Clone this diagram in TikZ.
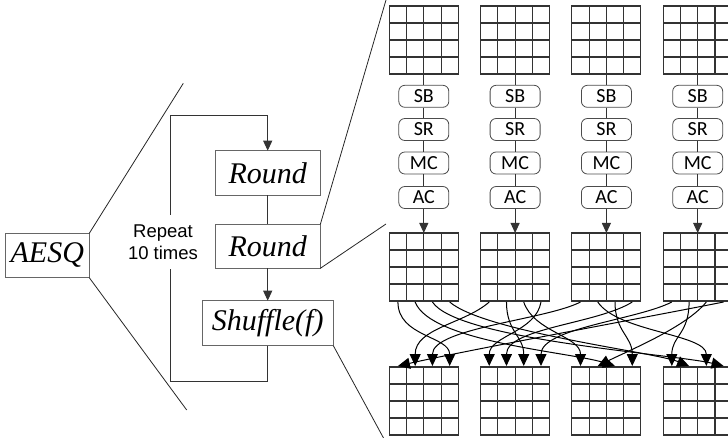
\documentclass[tikz,border=0pt]{standalone}
\usepackage{fontspec}
\setmainfont{Liberation Serif}
\setsansfont{Liberation Sans}
\newfontfamily\opfont{Carlito}
\usetikzlibrary{arrows.meta}

\tikzset{
  blockbox/.style={draw=black!60, line width=1pt, inner sep=0pt, outer sep=0pt,
    font=\fontsize{30}{32}\selectfont\itshape},
  opbox/.style={draw=black!70, line width=0.8pt, rounded corners=6pt, inner sep=0pt,
    minimum width=50pt, minimum height=22pt, font=\opfont\fontsize{20}{22}\selectfont},
  gridbox/.style={draw=black!80, line width=1.1pt, inner sep=0pt, outer sep=0pt,
    minimum width=69pt, minimum height=68pt},
  gridline/.style={draw=black!80, line width=1.1pt},
  wire/.style={draw=black!80, line width=1pt},
  zoomline/.style={draw=black!85, line width=0.8pt},
  arr/.style={wire, -{Triangle[length=10pt,width=9pt]}},
  shuf/.style={draw=black, line width=1pt, -{Triangle[length=12pt,width=11pt]}},
}

\begin{document}
\begin{tikzpicture}[x=1pt,y=-1pt]
\useasboundingbox (0,0) rectangle (728,438);

% ---- left: AESQ and its round structure ----
\node[blockbox, minimum width=84pt, minimum height=44.4pt] (aesq) at (47.3,255.5) {AESQ};
\node[blockbox, minimum width=105.3pt, minimum height=44.6pt] (r1) at (267.7,173) {Round};
\node[blockbox, minimum width=105.3pt, minimum height=44pt] (r2) at (267.7,246.3) {Round};
\node[blockbox, minimum width=131.3pt, minimum height=45pt] (sh) at (267.7,323.2) {Shuffle(f)};

\node[font=\sffamily\fontsize{18.5}{22}\selectfont, align=center] (rep) at (163,242)
  {Repeat\\10 times};

% loop back
\coordinate (lbr) at (267.7,381);
\coordinate (lbl) at (170,381);
\coordinate (gapb) at (170,269);
\coordinate (gapt) at (170,215);
\coordinate (ltl) at (170,115.7);
\draw[wire] (sh.south) -- (lbr) -- (lbl) -- (gapb);
\draw[arr] (gapt) -- (ltl) -| (r1.north);

\draw[wire] (r1.south) -- (r2.north);
\draw[arr] (r2.south) -- (sh.north);

% zoom-out lines
\coordinate (za) at (183.3,83.3);
\coordinate (zb) at (186.7,410);
\coordinate (zc) at (386,0);
\coordinate (zd) at (386,224);
\coordinate (ze) at (383.5,438);
\draw[zoomline] (aesq.north east) -- (za);
\draw[zoomline] (aesq.south east) -- (zb);
\draw[zoomline] (r2.north east) -- (zc);
\draw[zoomline] (r2.south east) -- (zd);
\draw[zoomline] (sh.south east) -- (ze);

% ---- right: four parallel states ----
\foreach \i in {0,...,3} {
  \pgfmathsetmacro\gx{389.3+91.3*\i}
  \foreach \row/\gy in {top/6, mid/233, bot/367} {
    \node[gridbox] (\row\i) at (\gx+34.5,\gy+34) {};
    \foreach \k in {1,2,3} {
      \draw[gridline] (\gx+17.25*\k,\gy) -- ++(0,68);
      \draw[gridline] (\gx,\gy+17*\k) -- ++(69,0);
    }
  }
  \foreach \j in {0,...,3} {
    \coordinate (s\i\j) at (\gx+8.625+17.25*\j,302);
    \coordinate (t\i\j) at (\gx+8.625+17.25*\j,366);
  }
  \node[opbox] (sb\i) at (\gx+34.5,96.3) {SB};
  \node[opbox] (sr\i) at (\gx+34.5,129.5) {SR};
  \node[opbox] (mc\i) at (\gx+34.5,163) {MC};
  \node[opbox] (ac\i) at (\gx+34.5,197.5) {AC};
  \draw[wire] (top\i.south) -- (sb\i.north);
  \draw[wire] (sb\i.south) -- (sr\i.north);
  \draw[wire] (sr\i.south) -- (mc\i.north);
  \draw[wire] (mc\i.south) -- (ac\i.north);
  \draw[arr] (ac\i.south) -- (mid\i.north);
}

% ---- column shuffle ----
\draw[shuf] (s00) .. controls +(0,35) and +(0,-30) .. (t03);
\draw[shuf] (s01) .. controls +(15,40) and +(-45,-14) .. (t22);
\draw[shuf] (s02) .. controls +(25,38) and +(-50,-12) .. (t33);
\draw[shuf] (s03) .. controls +(35,30) and +(-35,-14) .. (t31);
\draw[shuf] (s10) .. controls +(-25,22) and +(0,-38) .. (t01);
\draw[shuf] (s11) .. controls +(0,30) and +(0,-30) .. (t12);
\draw[shuf] (s12) .. controls +(10,30) and +(0,-30) .. (t20);
\draw[shuf] (s13) .. controls +(-5,30) and +(0,-30) .. (t10);
\draw[shuf] (s20) .. controls +(-35,18) and +(0,-38) .. (t02);
\draw[shuf] (s21) .. controls +(20,30) and +(0,-32) .. (t32);
\draw[shuf] (s22) .. controls +(0,30) and +(0,-30) .. (t23);
\draw[shuf] (s23) .. controls +(-35,22) and +(0,-38) .. (t11);
\draw[shuf] (s30) .. controls +(-35,18) and +(0,-38) .. (t13);
\draw[shuf] (s31) .. controls +(0,32) and +(0,-30) .. (t30);
\draw[shuf] (s32) .. controls +(-20,25) and +(30,-15) .. (t21);
\draw[shuf] (s33) .. controls +(-70,14) and +(70,-16) .. (t00);
\end{tikzpicture}
\end{document}
